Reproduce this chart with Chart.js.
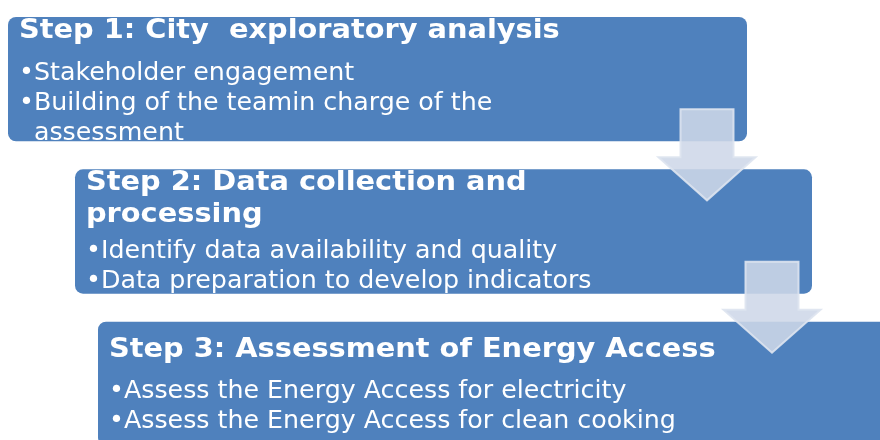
<!DOCTYPE html>
<html>
<head>
<meta charset="utf-8">
<script src="https://cdn.jsdelivr.net/npm/chart.js@4/dist/chart.umd.min.js"></script>
<style>
  html, body { margin: 0; padding: 0; background: #ffffff; overflow: hidden; }
  #wrap { width: 880px; height: 460px; }
</style>
</head>
<body>
<div id="wrap"><canvas id="c" width="880" height="460"></canvas></div>
<script>
// ---- data ----
const steps = ["Step 1", "Step 2", "Step 3"];
const stepTitles = [
  ["Step 1: City  exploratory analysis"],
  ["Step 2: Data collection and", "processing"],
  ["Step 3: Assessment of Energy Access"]
];
const stepBullets = [
  [["Stakeholder engagement"], ["Building of the teamin charge of the", "assessment"]],
  [["Identify data availability and quality"], ["Data preparation to develop indicators"]],
  [["Assess the Energy Access for electricity"], ["Assess the Energy Access for clean cooking"]]
];
const boxStart = [8, 75, 98];
const boxEnd = [747, 812, 900];

// ---- styles (not data) ----
const textStyle = {
  padLeft: 11,
  top: [21, 21, 35],
  titleLine: 32,
  gap: [42, 36, 41],
  line: 30,
  titleFont: "bold 26px 'DejaVu Sans'",
  titleScaleX: 1.108,
  bodyFont: "25.3px 'DejaVu Sans'",
  bodyScaleX: 1.0
};

function drawScaled(ctx, text, x, y, sx) {
  ctx.save();
  ctx.translate(x, y);
  ctx.scale(sx, 1);
  ctx.fillText(text, 0, 0);
  ctx.restore();
}

const stepPlugin = {
  id: 'stepText',
  afterDatasetsDraw(chart) {
    const ctx = chart.ctx;
    const meta = chart.getDatasetMeta(0);
    const area = chart.chartArea;
    meta.data.forEach((bar, i) => {
      const left = bar.base, right = bar.x;
      const top = bar.y - bar.height / 2, bottom = bar.y + bar.height / 2;
      ctx.save();
      ctx.beginPath();
      ctx.rect(left, top, Math.min(right, area.right) - left, bottom - top);
      ctx.clip();
      ctx.fillStyle = '#ffffff';
      ctx.textBaseline = 'alphabetic';
      ctx.textAlign = 'left';
      const x = left + textStyle.padLeft;
      let y = top + textStyle.top[i];
      ctx.font = textStyle.titleFont;
      stepTitles[i].forEach((t, k) => {
        drawScaled(ctx, t, x, y, textStyle.titleScaleX);
        if (k < stepTitles[i].length - 1) y += textStyle.titleLine;
      });
      y += textStyle.gap[i];
      ctx.font = textStyle.bodyFont;
      const bw = ctx.measureText('\u2022').width * textStyle.bodyScaleX;
      stepBullets[i].forEach((lines) => {
        lines.forEach((ln, k) => {
          if (k === 0) drawScaled(ctx, '\u2022' + ln, x, y, textStyle.bodyScaleX);
          else drawScaled(ctx, ln, x + bw, y, textStyle.bodyScaleX);
          y += textStyle.line;
        });
      });
      ctx.restore();
    });
    // arrows between steps
    for (let i = 0; i < meta.data.length - 1; i++) {
      const a = meta.data[i], b = meta.data[i + 1];
      const cx = a.x - 40;
      const y0 = a.y + a.height / 2 - 32;
      const tip = b.y - b.height / 2 + 31;
      const headH = 43, shaftW = 53, headW = 97;
      const yh = tip - headH;
      ctx.save();
      ctx.beginPath();
      ctx.moveTo(cx - shaftW / 2, y0);
      ctx.lineTo(cx + shaftW / 2, y0);
      ctx.lineTo(cx + shaftW / 2, yh);
      ctx.lineTo(cx + headW / 2, yh);
      ctx.lineTo(cx, tip);
      ctx.lineTo(cx - headW / 2, yh);
      ctx.lineTo(cx - shaftW / 2, yh);
      ctx.closePath();
      ctx.fillStyle = 'rgba(206,215,232,0.88)';
      ctx.fill();
      ctx.lineWidth = 2;
      ctx.strokeStyle = 'rgba(222,228,240,0.9)';
      ctx.stroke();
      ctx.restore();
    }
  }
};

new Chart(document.getElementById('c'), {
  type: 'bar',
  data: {
    labels: steps,
    datasets: [{
      data: steps.map((s, i) => [boxStart[i], boxEnd[i]]),
      backgroundColor: '#4f81bd',
      borderWidth: 0,
      borderRadius: 8,
      borderSkipped: false,
      categoryPercentage: 1,
      barPercentage: 0.816
    }]
  },
  options: {
    indexAxis: 'y',
    responsive: false,
    animation: false,
    layout: { padding: { top: 3, left: 0, right: 0, bottom: 0 } },
    plugins: { legend: { display: false }, tooltip: { enabled: false } },
    scales: {
      x: { type: 'linear', min: 0, max: 880, display: false },
      y: { type: 'category', display: false }
    }
  },
  plugins: [stepPlugin]
});
</script>
</body>
</html>
